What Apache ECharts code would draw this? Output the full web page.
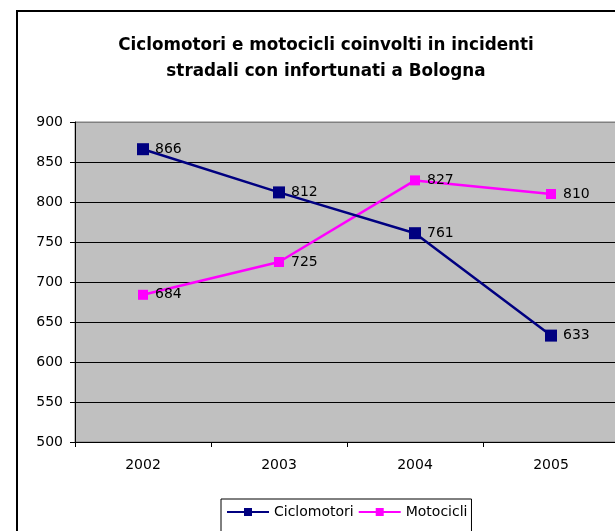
<!DOCTYPE html>
<html>
<head>
<meta charset="utf-8">
<style>
  html, body { margin: 0; padding: 0; overflow: hidden; background: #fff; }
  #chart { position: absolute; left: 0; top: 0; width: 640px; height: 560px; }
</style>
<script src="https://cdn.jsdelivr.net/npm/echarts@6/dist/echarts.min.js"></script>
</head>
<body>
<div id="chart"></div>
<script>
const years = ['2002', '2003', '2004', '2005'];
const ciclomotori = [866, 812, 761, 633];
const motocicli = [684, 725, 827, 810];
const yTicks = [500, 550, 600, 650, 700, 750, 800, 850, 900];

// wide sans, close to the spaced-out Arial of the original
const font = '"DejaVu Sans", "Liberation Sans", Arial, sans-serif';

const chart = echarts.init(document.getElementById('chart'));

chart.setOption({
  animation: false,
  textStyle: { fontFamily: font },
  title: {
    text: 'Ciclomotori e motocicli coinvolti in incidenti\nstradali con infortunati a Bologna',
    left: 321,
    top: 28,
    textAlign: 'center',
    textStyle: { fontSize: 16.8, fontWeight: 'bold', color: '#000', lineHeight: 26, fontFamily: font }
  },
  graphic: [{
    type: 'rect',
    shape: { x: 17, y: 11, width: 700, height: 600 },
    style: { fill: 'none', stroke: '#000', lineWidth: 2 },
    z: 100
  }],
  grid: {
    left: 75, top: 122, width: 544, height: 320,
    show: true,
    backgroundColor: '#c0c0c0',
    borderColor: '#808080',
    borderWidth: 1
  },
  legend: {
    left: 221, top: 499,
    padding: [6, 4, 20, 5],
    borderColor: '#000', borderWidth: 1,
    itemWidth: 42, itemHeight: 10, itemGap: 4,
    textStyle: { fontSize: 14, color: '#000', fontFamily: font },
    data: ['Ciclomotori', 'Motocicli']
  },
  xAxis: {
    type: 'category',
    data: years,
    boundaryGap: true,
    axisLine: { lineStyle: { color: '#000', width: 1 } },
    axisTick: { show: true, length: 5, inside: false, lineStyle: { color: '#000' } },
    axisLabel: { fontSize: 14, color: '#000', margin: 16 }
  },
  yAxis: {
    type: 'value',
    min: 500, max: 900, interval: 50,
    axisLine: { show: true, lineStyle: { color: '#000' } },
    axisTick: { show: true, length: 5, lineStyle: { color: '#000' } },
    axisLabel: { fontSize: 14, color: '#000', margin: 12 },
    splitLine: { lineStyle: { color: yTicks.map(v => v === 900 ? '#808080' : '#000'), width: 1 } }
  },
  series: [{
    name: 'Ciclomotori',
    type: 'line',
    data: ciclomotori,
    symbol: 'rect', symbolSize: 12,
    lineStyle: { color: '#000080', width: 2.5 },
    itemStyle: { color: '#000080' },
    label: { show: true, position: 'right', distance: 6, fontSize: 14, color: '#000' },
    z: 3
  }, {
    name: 'Motocicli',
    type: 'line',
    data: motocicli,
    symbol: 'rect', symbolSize: 10,
    lineStyle: { color: '#ff00ff', width: 2.5 },
    itemStyle: { color: '#ff00ff' },
    label: { show: true, position: 'right', distance: 7, fontSize: 14, color: '#000' },
    z: 2
  }]
});
</script>
</body>
</html>
